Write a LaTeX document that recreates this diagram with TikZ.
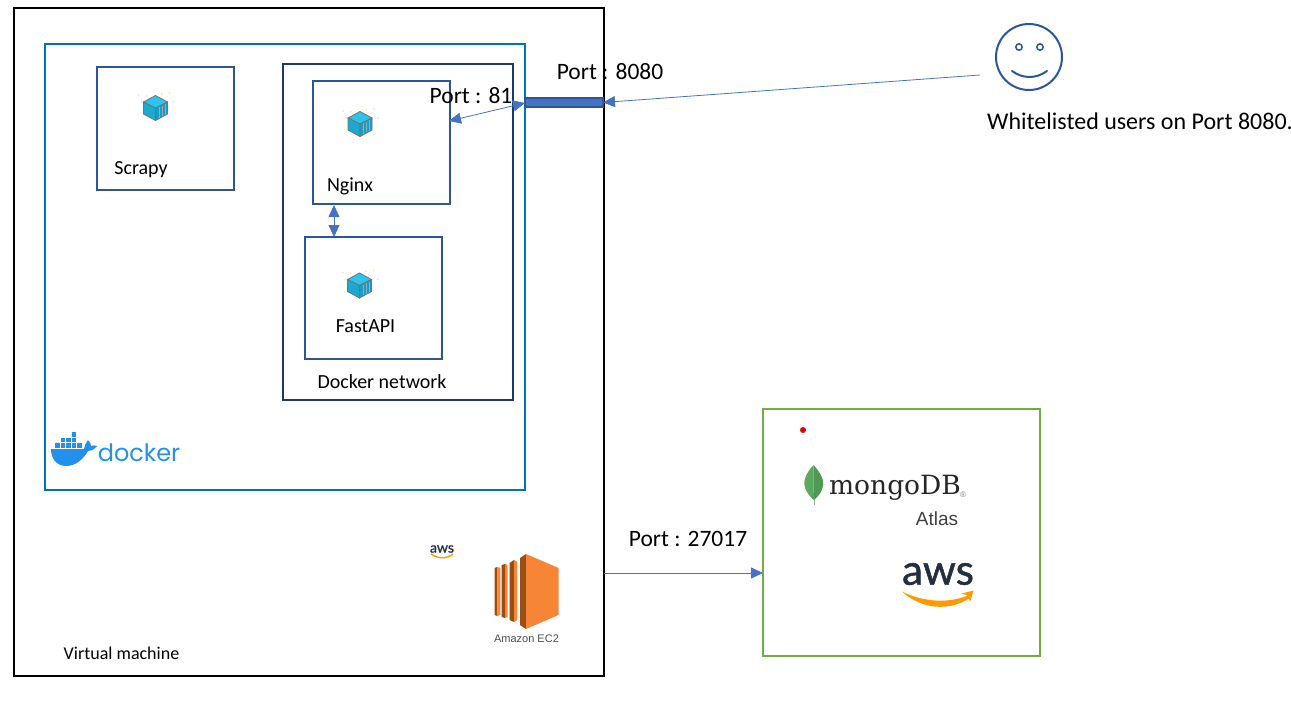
\documentclass[tikz,border=0pt]{standalone}
\usepackage{fontspec}
\setmainfont{Carlito}
\newfontfamily\logofont{DejaVu Serif}
\newfontfamily\dockerfont{Poppins}
\newfontfamily\awsfont[FakeBold=1.2]{Lato}
\newfontfamily\plainfont{Liberation Sans}
\usepackage{tikz}
\usetikzlibrary{shapes.geometric, arrows.meta}
\definecolor{vmblue}{HTML}{0070C0}
\definecolor{boxnavy}{HTML}{2F5597}
\definecolor{netnavy}{HTML}{1F3864}
\definecolor{arrowblue}{HTML}{4472C4}
\definecolor{atlasgreen}{HTML}{70AD47}
\definecolor{whaleblue}{HTML}{2390EC}
\definecolor{ecorange}{HTML}{F68536}
\definecolor{ecdark}{HTML}{9A4E14}
\definecolor{awsnavy}{HTML}{232F3E}
\definecolor{awsorange}{HTML}{FF9900}
\definecolor{cubetop}{HTML}{2BC4EE}
\definecolor{cubeleft}{HTML}{1BA9D0}
\definecolor{cuberight}{HTML}{1A9CC4}
\definecolor{leafleft}{HTML}{5AA95F}
\definecolor{leafright}{HTML}{4E9A55}
\tikzstyle{box} = [rectangle, draw=boxnavy, line width=2pt, outer sep=0pt, inner sep=0pt]
\tikzstyle{biglabel} = [inner sep=0pt, font=\fontsize{23.5}{26}\selectfont]
\tikzstyle{smalllabel} = [inner sep=0pt, font=\fontsize{20}{24}\selectfont]
\tikzstyle{arrow} = [draw=arrowblue, line width=0.8pt, -{Triangle[length=12pt,width=11pt]}]
\tikzstyle{twoway} = [draw=arrowblue, line width=0.8pt, {Triangle[length=12pt,width=11pt]}-{Triangle[length=12pt,width=11pt]}]
\newcommand{\cubeicon}[2]{%
    \begin{scope}[shift={(#1,#2)}]
        \foreach \dx/\dy in {-17/-13,-9/-12,6/-14,14/-15,-14/-6,18/-6}
            \fill [orange!25] (\dx,\dy) circle (1pt);
        \fill [draw=black!55, line width=0.8pt, fill=cubetop] (0,-12.5) -- (12,-6) -- (0,0) -- (-12,-6) -- cycle;
        \fill [draw=black!55, line width=0.8pt, fill=cubeleft] (-12,-6) -- (0,0) -- (0,12.5) -- (-12,6) -- cycle;
        \fill [draw=black!55, line width=0.8pt, fill=cuberight] (0,0) -- (12,-6) -- (12,6) -- (0,12.5) -- cycle;
        \foreach \dx in {3.5,6.5,9.5}
            \draw [black!35, line width=0.5pt] (\dx,{-0.5*\dx+1}) -- (\dx,{-0.5*\dx+11.5});
    \end{scope}}
\begin{document}
\begin{tikzpicture}[x=1pt, y=-1pt, node distance=156pt]
        \useasboundingbox (0,0) rectangle (1291,709);

        \node (vm) [box, draw=black, minimum width=590pt, minimum height=668pt] at (309,342) {};
        \node (dockerbox) [box, draw=vmblue, minimum width=480pt, minimum height=446pt] at (285,267) {};
        \node (scrapy) [box, minimum width=137pt, minimum height=123pt] at (165.5,128.5) {};
        \node (network) [box, draw=netnavy, minimum width=230pt, minimum height=336pt] at (398,232) {};
        \node (nginx) [box, minimum width=137pt, minimum height=123pt] at (381.5,142.5) {};
        \node (fastapi) [box, below of=nginx, xshift=-8pt, yshift=0.5pt, minimum width=137pt, minimum height=122pt] {};
        \node (portbar) [rectangle, draw=boxnavy, fill=arrowblue, line width=1.2pt, outer sep=0pt, minimum width=78pt, minimum height=9pt, inner sep=0pt] at (564,102.5) {};
        \node (atlas) [box, draw=atlasgreen, minimum width=277pt, minimum height=247pt] at (901.5,532.5) {};
        \node (user) [circle, draw=boxnavy, line width=2pt, minimum size=66pt, inner sep=0pt] at (1029,57) {};

        \coordinate (userline) at (980,75);
        \coordinate (nginxport) at (449,121);
        \coordinate (barport) at (525,103);
        \coordinate (nginxdown) at (334,205);
        \coordinate (fastapiup) at (334,237);
        \coordinate (atlasin) at (763,573);

        \draw [arrow] (userline) -- (portbar.east);
        \draw [twoway] (nginxport) -- (barport);
        \draw [twoway] (nginxdown) -- (fastapiup);
        \draw [arrow] (vm.east |- atlasin) -- (atlasin);

        \node (scrapylabel) [smalllabel] at (141,170) {Scrapy};
        \node (nginxlabel) [smalllabel] at (350,186) {Nginx};
        \node (fastapilabel) [smalllabel] at (365.5,326) {FastAPI};
        \node (networklabel) [smalllabel] at (382,382) {Docker network};
        \node (vmlabel) [smalllabel, font=\fontsize{18}{20}\selectfont] at (121.5,653) {Virtual machine};
        \node (port81) [biglabel] at (471,96) {Port : 81};
        \node (port8080) [biglabel] at (610,72) {Port : 8080};
        \node (port27017) [biglabel] at (688,538.5) {Port : 27017};
        \node (userlabel) [biglabel, font=\fontsize{24}{26}\selectfont] at (1140,121) {Whitelisted users on Port 8080.};

        \cubeicon{155.5}{108}
        \cubeicon{360}{124}
        \cubeicon{359.5}{285.5}

        \fill [boxnavy] (1019,47) circle (4pt);
        \fill [white] (1019,47) circle (2.2pt);
        \fill [boxnavy] (1040,47) circle (4pt);
        \fill [white] (1040,47) circle (2.2pt);
        \draw [boxnavy, line width=2pt, line cap=round] (1012,71) .. controls (1023,79) and (1036,79) .. (1047,71);

        \fill [whaleblue] (51,449) -- (84,449) .. controls (85,445) and (86,442) .. (88,440) .. controls (90,442) and (91,444) .. (91,446) .. controls (93,445) and (95,445) .. (97,446) .. controls (94,450) and (91,451) .. (88,451) .. controls (83,460) and (75,466) .. (66,466) .. controls (56,466) and (51,458) .. (51,449) -- cycle;
        \foreach \sx in {55,60.5,66,71.5,77}
            \fill [whaleblue] (\sx,443) rectangle ++(4.8,4.8);
        \foreach \sx in {60.5,66,71.5}
            \fill [whaleblue] (\sx,437.5) rectangle ++(4.8,4.8);
        \fill [whaleblue] (71.5,432) rectangle ++(4.8,4.8);
        \node (dockerlogo) [inner sep=0pt, text=whaleblue, font=\dockerfont\fontsize{24}{26}\selectfont] at (139,453) {docker};

        \node (awssmalltext) [inner sep=0pt, text=awsnavy, font=\awsfont\fontsize{14}{16}\selectfont] at (442,549) {aws};
        \draw [awsorange, line width=1.4pt] (431,554) .. controls (438,559) and (447,559) .. (453,554);

        \fill [ecdark] (494.5,568) -- (497.3,567) -- (497.3,616) -- (494.5,615) -- cycle;
        \fill [ecorange] (497.3,567) -- (500.3,568) -- (500.3,615) -- (497.3,616) -- cycle;
        \fill [ecdark] (501.7,565) -- (505,564) -- (505,618) -- (501.7,617) -- cycle;
        \fill [ecorange] (505,564) -- (507.7,565) -- (507.7,617) -- (505,618) -- cycle;
        \fill [ecdark] (509.5,563) -- (514,560) -- (514,622) -- (509.5,620) -- cycle;
        \fill [ecorange] (514,560) -- (517.3,562) -- (517.3,620) -- (514,622) -- cycle;
        \fill [ecdark] (520,558) -- (526,554) -- (526,629) -- (520,625) -- cycle;
        \fill [ecorange] (526,554) -- (558.5,568) -- (558.5,615) -- (526,629) -- cycle;
        \node (ec2label) [inner sep=0pt, text=black!70, font=\plainfont\fontsize{11}{13}\selectfont] at (526.5,639) {Amazon EC2};

        \fill [red!90!black] (803,430) circle (3pt);

        \fill [black!35] (813.5,495) rectangle (814.7,505);
        \fill [leafleft] (813.5,465) .. controls (806,473) and (804,480) .. (804.3,484) .. controls (805,491) and (810,497) .. (813.8,500) -- cycle;
        \fill [leafright] (813.5,465) .. controls (820,472) and (823.5,479) .. (823.3,484) .. controls (823,491) and (818,497) .. (813.8,500) -- cycle;
        \node (mongolabel) [inner sep=0pt, text=black!85, font=\logofont\fontsize{26.5}{30}\selectfont] at (895,488) {mongoDB};
        \node (mongoreg) [inner sep=0pt, text=black!50, font=\plainfont\fontsize{8}{9}\selectfont] at (963,494.5) {®};
        \node (atlaslabel) [inner sep=0pt, text=black!75, font=\plainfont\fontsize{19}{22}\selectfont] at (937,519) {Atlas};

        \node (awstext) [inner sep=0pt, text=awsnavy, font=\awsfont\fontsize{42}{46}\selectfont] at (938,574) {aws};
        \fill [awsorange] (902,591.5) .. controls (925,603) and (950,603) .. (968,595.5) -- (961.5,593.5) -- (973.5,590.5) -- (970,602) -- (969,598.5) .. controls (950,611) and (922,610) .. cycle;
\end{tikzpicture}
\end{document}
